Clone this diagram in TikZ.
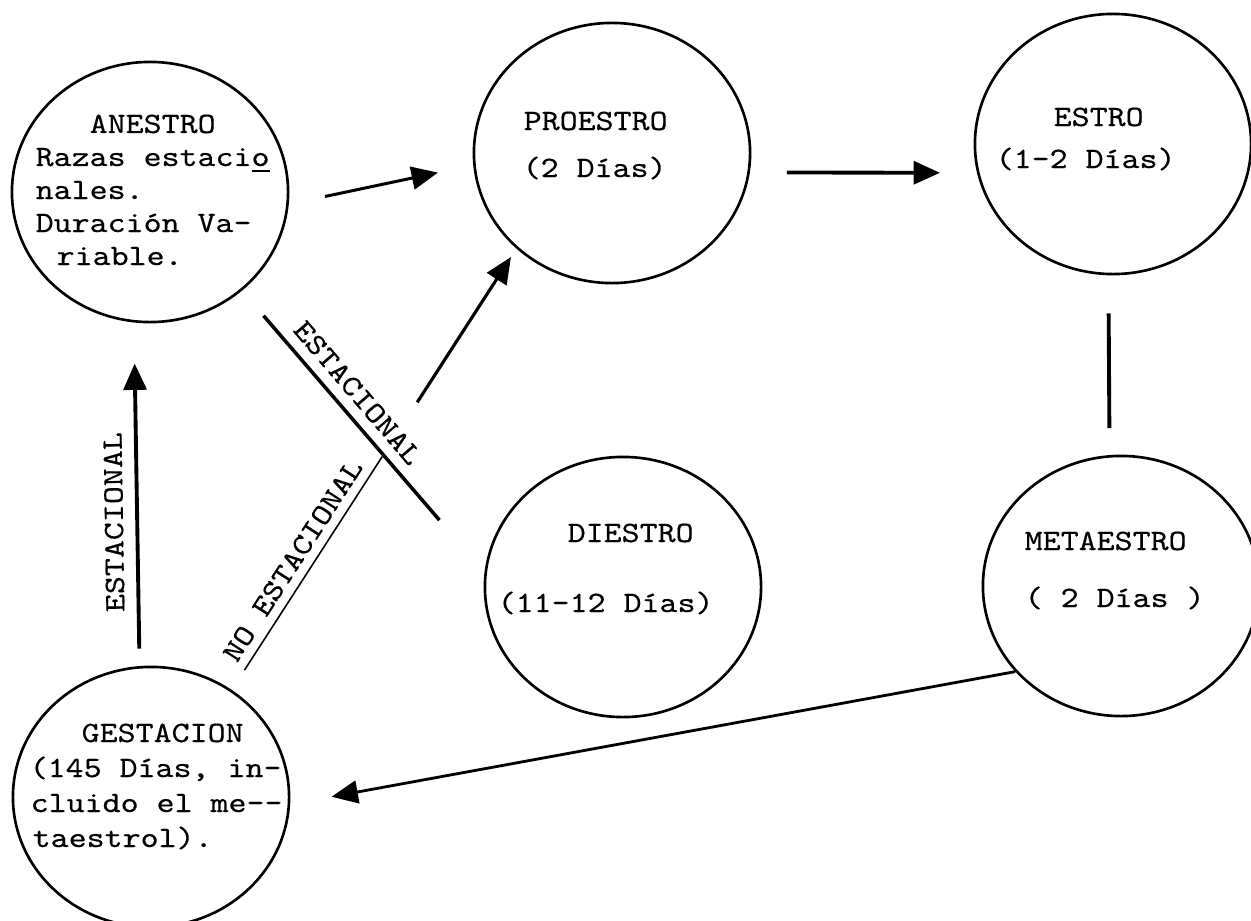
\documentclass[tikz,border=0pt]{standalone}
\usepackage{fontspec}
\newfontfamily\tw{lmmono10-regular}[Extension=.otf, FakeStretch=1.16, FakeBold=0.4]
\usetikzlibrary{shapes.geometric,arrows.meta,calc}
\begin{document}
\begin{tikzpicture}[x=0.01cm,y=-0.01cm,
  stage/.style={draw, ellipse, line width=0.75pt, inner sep=0pt,
                minimum width=2.76cm, minimum height=2.6cm},
  txt/.style={font=\tw\fontsize{8.4pt}{10pt}\selectfont, inner sep=0pt, anchor=base west},
  lab/.style={font=\tw\fontsize{8.4pt}{10pt}\selectfont, inner sep=2.8pt, sloped, above},
  arrowline/.style={line width=1pt, -{Triangle[length=7.5pt,width=6.5pt]}},
  plainline/.style={line width=1pt},
  thinline/.style={line width=0.45pt}]

\useasboundingbox (0,0) rectangle (1251,921);

% stages
\node[stage] (anestro)   at (150,192)  {};
\node[stage] (proestro)  at (612,153)  {};
\node[stage] (estro)     at (1113,144) {};
\node[stage] (diestro)   at (623,587)  {};
\node[stage] (metaestro) at (1121,586) {};
\node[stage] (gestacion) at (151,797)  {};

% texts
\node[txt] (an1) at (89,133)  {ANESTRO};
\node[txt] (an2) at (35,166)  {Razas estaci\underline{o}};
\node[txt] (an3) at (35,199)  {nales.};
\node[txt] (an4) at (35,232)  {Duración Va-};
\node[txt] (an5) at (56,265)  {riable.};

\node[txt] (pr1) at (523,130) {PROESTRO};
\node[txt] (pr2) at (522,177) {(2 Días)};

\node[txt] (es1) at (1053,126) {ESTRO};
\node[txt] (es2) at (995,168)  {(1-2 Días)};

\node[txt] (di1) at (567,542) {DIESTRO};
\node[txt] (di2) at (497,612) {(11-12 Días)};

\node[txt] (me1) at (1024,550) {METAESTRO};
\node[txt] (me2) at (1024,607) {( 2 Días )};

\node[txt] (ge1) at (81,742) {GESTACION};
\node[txt] (ge2) at (29,777) {(145 Días, in-};
\node[txt] (ge3) at (30,812) {cluido el me-{}-};
\node[txt] (ge4) at (32,847) {taestrol).};

% connectors
\draw[arrowline, line width=0.85pt, shorten <=0.37cm, shorten >=0.36cm]
  (anestro.-5) -- (proestro.185);
\draw[arrowline, line width=1.1pt, shorten <=0.37cm, shorten >=0.37cm]
  (proestro.-8.2) -- (estro.192.7);
\draw[plainline, line width=1.1pt, shorten <=0.38cm, shorten >=0.27cm]
  (estro.268) -- (metaestro.95.8);
\draw[arrowline, line width=0.8pt, shorten >=0.42cm]
  (metaestro.219.9) -- (gestacion.-3.5);
\draw[arrowline, line width=1.1pt, shorten <=0.175cm, shorten >=0.41cm]
  (gestacion.95.7) -- node[lab, allow upside down, pos=0.42, inner sep=3.4pt] (lab1) {ESTACIONAL} (anestro.263.85);
\draw[plainline, shorten <=0.33cm, shorten >=0.69cm]
  (anestro.-47.3) -- node[lab, pos=0.411] (lab2) {ESTACIONAL} (diestro.174.7);
\draw[thinline, shorten <=0.235cm, shorten >=2.474cm]
  (gestacion.53.9) -- node[lab, pos=0.27, inner sep=2.5pt] (lab3) {NO ESTACIONAL} (proestro.225.9);
\draw[arrowline, line width=0.9pt, shorten <=3.42cm, shorten >=0.1cm]
  (gestacion.53.9) -- (proestro.225.9);

\end{tikzpicture}
\end{document}
